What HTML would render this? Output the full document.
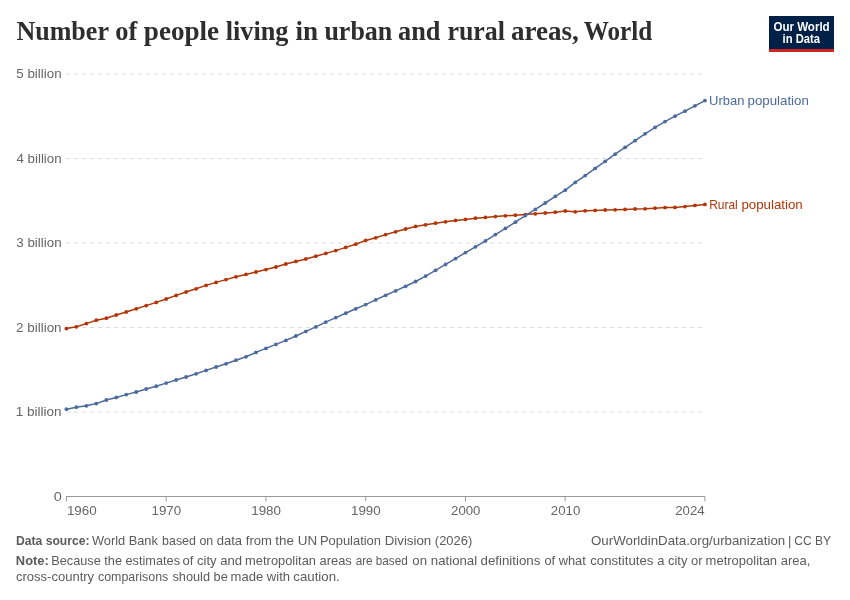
<!DOCTYPE html>
<html><head><meta charset="utf-8"><title>Number of people living in urban and rural areas, World</title>
<style>
html,body{margin:0;padding:0;background:#fff;}
body{width:850px;height:600px;overflow:hidden;font-family:"Liberation Sans",sans-serif;}
svg{display:block;will-change:transform;}
text{font-family:"Liberation Sans",sans-serif;}
text.s{font-family:"Liberation Serif",serif;}
</style></head><body>
<svg width="850" height="600" viewBox="0 0 850 600">
<rect width="850" height="600" fill="#fff"/>
<!-- logo -->
<rect x="769" y="16" width="65" height="36" fill="#002147"/>
<rect x="769" y="49" width="65" height="3" fill="#ce261e"/>
<!-- grid -->
<g stroke="#ddd" stroke-width="1" stroke-dasharray="4.2,3.8" fill="none"><line x1="66" x2="705" y1="74.0" y2="74.0"/><line x1="66" x2="705" y1="158.5" y2="158.5"/><line x1="66" x2="705" y1="243.0" y2="243.0"/><line x1="66" x2="705" y1="327.5" y2="327.5"/><line x1="66" x2="705" y1="412.05" y2="412.05"/></g>
<!-- axis -->
<g stroke="#999" stroke-width="1" fill="none">
<line x1="66" x2="705" y1="496.5" y2="496.5"/>
<line x1="66.4" x2="66.4" y1="496.5" y2="501.5"/><line x1="166.2" x2="166.2" y1="496.5" y2="501.5"/><line x1="265.9" x2="265.9" y1="496.5" y2="501.5"/><line x1="365.7" x2="365.7" y1="496.5" y2="501.5"/><line x1="465.5" x2="465.5" y1="496.5" y2="501.5"/><line x1="565.2" x2="565.2" y1="496.5" y2="501.5"/><line x1="704.9" x2="704.9" y1="496.5" y2="501.5"/>
</g>
<!-- series -->
<polyline points="66.40,328.60 76.38,326.80 86.35,323.60 96.33,320.20 106.31,318.20 116.29,315.00 126.26,312.00 136.24,308.80 146.22,305.60 156.19,302.40 166.17,299.00 176.15,295.40 186.12,292.00 196.10,288.80 206.08,285.40 216.06,282.40 226.03,279.60 236.01,276.80 245.99,274.40 255.96,272.00 265.94,269.60 275.92,267.00 285.89,264.00 295.87,261.40 305.85,259.00 315.83,256.20 325.80,253.40 335.78,250.60 345.76,247.40 355.73,244.20 365.71,240.40 375.69,237.80 385.66,234.60 395.64,231.80 405.62,229.00 415.60,226.40 425.57,224.80 435.55,223.20 445.53,221.80 455.50,220.40 465.48,219.40 475.46,218.20 485.43,217.40 495.41,216.60 505.39,215.80 515.37,215.20 525.34,214.60 535.32,213.80 545.30,213.00 555.27,212.20 565.25,211.00 575.23,211.80 585.20,210.80 595.18,210.40 605.16,210.00 615.13,209.80 625.11,209.40 635.09,209.00 645.07,208.80 655.04,208.20 665.02,207.60 675.00,207.40 684.97,206.60 694.95,205.40 704.93,204.40" fill="none" stroke="#B13507" stroke-width="1.5" stroke-linejoin="round" stroke-linecap="butt"/>
<g fill="#B13507"><circle cx="66.40" cy="328.60" r="1.9"/><circle cx="76.38" cy="326.80" r="1.9"/><circle cx="86.35" cy="323.60" r="1.9"/><circle cx="96.33" cy="320.20" r="1.9"/><circle cx="106.31" cy="318.20" r="1.9"/><circle cx="116.29" cy="315.00" r="1.9"/><circle cx="126.26" cy="312.00" r="1.9"/><circle cx="136.24" cy="308.80" r="1.9"/><circle cx="146.22" cy="305.60" r="1.9"/><circle cx="156.19" cy="302.40" r="1.9"/><circle cx="166.17" cy="299.00" r="1.9"/><circle cx="176.15" cy="295.40" r="1.9"/><circle cx="186.12" cy="292.00" r="1.9"/><circle cx="196.10" cy="288.80" r="1.9"/><circle cx="206.08" cy="285.40" r="1.9"/><circle cx="216.06" cy="282.40" r="1.9"/><circle cx="226.03" cy="279.60" r="1.9"/><circle cx="236.01" cy="276.80" r="1.9"/><circle cx="245.99" cy="274.40" r="1.9"/><circle cx="255.96" cy="272.00" r="1.9"/><circle cx="265.94" cy="269.60" r="1.9"/><circle cx="275.92" cy="267.00" r="1.9"/><circle cx="285.89" cy="264.00" r="1.9"/><circle cx="295.87" cy="261.40" r="1.9"/><circle cx="305.85" cy="259.00" r="1.9"/><circle cx="315.83" cy="256.20" r="1.9"/><circle cx="325.80" cy="253.40" r="1.9"/><circle cx="335.78" cy="250.60" r="1.9"/><circle cx="345.76" cy="247.40" r="1.9"/><circle cx="355.73" cy="244.20" r="1.9"/><circle cx="365.71" cy="240.40" r="1.9"/><circle cx="375.69" cy="237.80" r="1.9"/><circle cx="385.66" cy="234.60" r="1.9"/><circle cx="395.64" cy="231.80" r="1.9"/><circle cx="405.62" cy="229.00" r="1.9"/><circle cx="415.60" cy="226.40" r="1.9"/><circle cx="425.57" cy="224.80" r="1.9"/><circle cx="435.55" cy="223.20" r="1.9"/><circle cx="445.53" cy="221.80" r="1.9"/><circle cx="455.50" cy="220.40" r="1.9"/><circle cx="465.48" cy="219.40" r="1.9"/><circle cx="475.46" cy="218.20" r="1.9"/><circle cx="485.43" cy="217.40" r="1.9"/><circle cx="495.41" cy="216.60" r="1.9"/><circle cx="505.39" cy="215.80" r="1.9"/><circle cx="515.37" cy="215.20" r="1.9"/><circle cx="525.34" cy="214.60" r="1.9"/><circle cx="535.32" cy="213.80" r="1.9"/><circle cx="545.30" cy="213.00" r="1.9"/><circle cx="555.27" cy="212.20" r="1.9"/><circle cx="565.25" cy="211.00" r="1.9"/><circle cx="575.23" cy="211.80" r="1.9"/><circle cx="585.20" cy="210.80" r="1.9"/><circle cx="595.18" cy="210.40" r="1.9"/><circle cx="605.16" cy="210.00" r="1.9"/><circle cx="615.13" cy="209.80" r="1.9"/><circle cx="625.11" cy="209.40" r="1.9"/><circle cx="635.09" cy="209.00" r="1.9"/><circle cx="645.07" cy="208.80" r="1.9"/><circle cx="655.04" cy="208.20" r="1.9"/><circle cx="665.02" cy="207.60" r="1.9"/><circle cx="675.00" cy="207.40" r="1.9"/><circle cx="684.97" cy="206.60" r="1.9"/><circle cx="694.95" cy="205.40" r="1.9"/><circle cx="704.93" cy="204.40" r="1.9"/></g>

<polyline points="66.40,409.20 76.38,407.20 86.35,405.80 96.33,403.60 106.31,400.00 116.29,397.40 126.26,394.60 136.24,392.00 146.22,389.00 156.19,386.20 166.17,383.10 176.15,380.00 186.12,377.00 196.10,373.80 206.08,370.40 216.06,367.00 226.03,363.80 236.01,360.20 245.99,356.80 255.96,352.40 265.94,348.40 275.92,344.40 285.89,340.40 295.87,336.00 305.85,331.40 315.83,326.90 325.80,322.10 335.78,317.60 345.76,313.20 355.73,308.80 365.71,304.60 375.69,299.90 385.66,295.30 395.64,290.90 405.62,286.30 415.60,281.50 425.57,276.10 435.55,270.30 445.53,264.40 455.50,258.60 465.48,252.60 475.46,246.80 485.43,240.90 495.41,234.60 505.39,228.40 515.37,222.20 525.34,215.60 535.32,209.40 545.30,203.00 555.27,196.40 565.25,190.20 575.23,182.40 585.20,175.60 595.18,168.40 605.16,161.40 615.13,154.20 625.11,147.40 635.09,140.70 645.07,133.80 655.04,127.40 665.02,121.60 675.00,116.20 684.97,111.20 694.95,105.80 704.93,100.60" fill="none" stroke="#4C6A9C" stroke-width="1.5" stroke-linejoin="round" stroke-linecap="butt"/>
<g fill="#4C6A9C"><circle cx="66.40" cy="409.20" r="1.9"/><circle cx="76.38" cy="407.20" r="1.9"/><circle cx="86.35" cy="405.80" r="1.9"/><circle cx="96.33" cy="403.60" r="1.9"/><circle cx="106.31" cy="400.00" r="1.9"/><circle cx="116.29" cy="397.40" r="1.9"/><circle cx="126.26" cy="394.60" r="1.9"/><circle cx="136.24" cy="392.00" r="1.9"/><circle cx="146.22" cy="389.00" r="1.9"/><circle cx="156.19" cy="386.20" r="1.9"/><circle cx="166.17" cy="383.10" r="1.9"/><circle cx="176.15" cy="380.00" r="1.9"/><circle cx="186.12" cy="377.00" r="1.9"/><circle cx="196.10" cy="373.80" r="1.9"/><circle cx="206.08" cy="370.40" r="1.9"/><circle cx="216.06" cy="367.00" r="1.9"/><circle cx="226.03" cy="363.80" r="1.9"/><circle cx="236.01" cy="360.20" r="1.9"/><circle cx="245.99" cy="356.80" r="1.9"/><circle cx="255.96" cy="352.40" r="1.9"/><circle cx="265.94" cy="348.40" r="1.9"/><circle cx="275.92" cy="344.40" r="1.9"/><circle cx="285.89" cy="340.40" r="1.9"/><circle cx="295.87" cy="336.00" r="1.9"/><circle cx="305.85" cy="331.40" r="1.9"/><circle cx="315.83" cy="326.90" r="1.9"/><circle cx="325.80" cy="322.10" r="1.9"/><circle cx="335.78" cy="317.60" r="1.9"/><circle cx="345.76" cy="313.20" r="1.9"/><circle cx="355.73" cy="308.80" r="1.9"/><circle cx="365.71" cy="304.60" r="1.9"/><circle cx="375.69" cy="299.90" r="1.9"/><circle cx="385.66" cy="295.30" r="1.9"/><circle cx="395.64" cy="290.90" r="1.9"/><circle cx="405.62" cy="286.30" r="1.9"/><circle cx="415.60" cy="281.50" r="1.9"/><circle cx="425.57" cy="276.10" r="1.9"/><circle cx="435.55" cy="270.30" r="1.9"/><circle cx="445.53" cy="264.40" r="1.9"/><circle cx="455.50" cy="258.60" r="1.9"/><circle cx="465.48" cy="252.60" r="1.9"/><circle cx="475.46" cy="246.80" r="1.9"/><circle cx="485.43" cy="240.90" r="1.9"/><circle cx="495.41" cy="234.60" r="1.9"/><circle cx="505.39" cy="228.40" r="1.9"/><circle cx="515.37" cy="222.20" r="1.9"/><circle cx="525.34" cy="215.60" r="1.9"/><circle cx="535.32" cy="209.40" r="1.9"/><circle cx="545.30" cy="203.00" r="1.9"/><circle cx="555.27" cy="196.40" r="1.9"/><circle cx="565.25" cy="190.20" r="1.9"/><circle cx="575.23" cy="182.40" r="1.9"/><circle cx="585.20" cy="175.60" r="1.9"/><circle cx="595.18" cy="168.40" r="1.9"/><circle cx="605.16" cy="161.40" r="1.9"/><circle cx="615.13" cy="154.20" r="1.9"/><circle cx="625.11" cy="147.40" r="1.9"/><circle cx="635.09" cy="140.70" r="1.9"/><circle cx="645.07" cy="133.80" r="1.9"/><circle cx="655.04" cy="127.40" r="1.9"/><circle cx="665.02" cy="121.60" r="1.9"/><circle cx="675.00" cy="116.20" r="1.9"/><circle cx="684.97" cy="111.20" r="1.9"/><circle cx="694.95" cy="105.80" r="1.9"/><circle cx="704.93" cy="100.60" r="1.9"/></g>

<!-- text -->
<text class="s" x="16.42" y="40.1" font-size="27px" font-weight="bold" fill="#2e2e2e" textLength="92.56" lengthAdjust="spacingAndGlyphs">Number</text>
<text class="s" x="115.22" y="40.1" font-size="27px" font-weight="bold" fill="#2e2e2e" textLength="22.03" lengthAdjust="spacingAndGlyphs">of</text>
<text class="s" x="143.85" y="40.1" font-size="27px" font-weight="bold" fill="#2e2e2e" textLength="75.32" lengthAdjust="spacingAndGlyphs">people</text>
<text class="s" x="225.71" y="40.1" font-size="27px" font-weight="bold" fill="#2e2e2e" textLength="62.76" lengthAdjust="spacingAndGlyphs">living</text>
<text class="s" x="295.60" y="40.1" font-size="27px" font-weight="bold" fill="#2e2e2e" textLength="22.53" lengthAdjust="spacingAndGlyphs">in</text>
<text class="s" x="324.42" y="40.1" font-size="27px" font-weight="bold" fill="#2e2e2e" textLength="67.91" lengthAdjust="spacingAndGlyphs">urban</text>
<text class="s" x="398.03" y="40.1" font-size="27px" font-weight="bold" fill="#2e2e2e" textLength="42.36" lengthAdjust="spacingAndGlyphs">and</text>
<text class="s" x="447.38" y="40.1" font-size="27px" font-weight="bold" fill="#2e2e2e" textLength="57.60" lengthAdjust="spacingAndGlyphs">rural</text>
<text class="s" x="510.90" y="40.1" font-size="27px" font-weight="bold" fill="#2e2e2e" textLength="67.90" lengthAdjust="spacingAndGlyphs">areas,</text>
<text class="s" x="583.73" y="40.1" font-size="27px" font-weight="bold" fill="#2e2e2e" textLength="68.51" lengthAdjust="spacingAndGlyphs">World</text>
<text  x="16.31" y="78.2" font-size="13.5px" fill="#666" textLength="45.27" lengthAdjust="spacingAndGlyphs">5 billion</text>
<text  x="16.55" y="162.7" font-size="13.5px" fill="#666" textLength="45.01" lengthAdjust="spacingAndGlyphs">4 billion</text>
<text  x="16.31" y="247.2" font-size="13.5px" fill="#666" textLength="45.27" lengthAdjust="spacingAndGlyphs">3 billion</text>
<text  x="16.05" y="331.7" font-size="13.5px" fill="#666" textLength="45.52" lengthAdjust="spacingAndGlyphs">2 billion</text>
<text  x="15.80" y="416.25" font-size="13.5px" fill="#666" textLength="45.78" lengthAdjust="spacingAndGlyphs">1 billion</text>
<text  x="53.66" y="501" font-size="13.5px" fill="#666" textLength="8.09" lengthAdjust="spacingAndGlyphs">0</text>
<text  x="66.91" y="515" font-size="13.5px" fill="#666" textLength="29.73" lengthAdjust="spacingAndGlyphs">1960</text>
<text  x="151.48" y="515" font-size="13.5px" fill="#666" textLength="29.73" lengthAdjust="spacingAndGlyphs">1970</text>
<text  x="251.25" y="515" font-size="13.5px" fill="#666" textLength="29.73" lengthAdjust="spacingAndGlyphs">1980</text>
<text  x="351.02" y="515" font-size="13.5px" fill="#666" textLength="29.73" lengthAdjust="spacingAndGlyphs">1990</text>
<text  x="451.04" y="515" font-size="13.5px" fill="#666" textLength="29.47" lengthAdjust="spacingAndGlyphs">2000</text>
<text  x="550.81" y="515" font-size="13.5px" fill="#666" textLength="29.47" lengthAdjust="spacingAndGlyphs">2010</text>
<text  x="675.26" y="515" font-size="13.5px" fill="#666" textLength="29.47" lengthAdjust="spacingAndGlyphs">2024</text>
<text  x="709.10" y="105" font-size="13px" fill="#4C6A9C" textLength="35.42" lengthAdjust="spacingAndGlyphs">Urban</text>
<text  x="747.53" y="105" font-size="13px" fill="#4C6A9C" textLength="61.33" lengthAdjust="spacingAndGlyphs">population</text>
<text  x="709.18" y="209.1" font-size="13px" fill="#B13507" textLength="28.58" lengthAdjust="spacingAndGlyphs">Rural</text>
<text  x="741.43" y="209.1" font-size="13px" fill="#B13507" textLength="61.33" lengthAdjust="spacingAndGlyphs">population</text>
<text  x="15.90" y="545" font-size="13px" font-weight="bold" fill="#5b5b5b" textLength="73.67" lengthAdjust="spacingAndGlyphs">Data source:</text>
<text  x="91.95" y="545" font-size="13px" fill="#5b5b5b" textLength="65.86" lengthAdjust="spacingAndGlyphs">World Bank</text>
<text  x="162.08" y="545" font-size="13px" fill="#5b5b5b" textLength="51.13" lengthAdjust="spacingAndGlyphs">based on</text>
<text  x="216.70" y="545" font-size="13px" fill="#5b5b5b" textLength="55.23" lengthAdjust="spacingAndGlyphs">data from</text>
<text  x="275.34" y="545" font-size="13px" fill="#5b5b5b" textLength="41.76" lengthAdjust="spacingAndGlyphs">the UN</text>
<text  x="320.01" y="545" font-size="13px" fill="#5b5b5b" textLength="60.94" lengthAdjust="spacingAndGlyphs">Population</text>
<text  x="384.68" y="545" font-size="13px" fill="#5b5b5b" textLength="46.61" lengthAdjust="spacingAndGlyphs">Division</text>
<text  x="434.85" y="545" font-size="13px" fill="#5b5b5b" textLength="37.47" lengthAdjust="spacingAndGlyphs">(2026)</text>
<text  x="591.03" y="545" font-size="13px" fill="#5b5b5b" textLength="194.20" lengthAdjust="spacingAndGlyphs">OurWorldinData.org/urbanization</text>
<text  x="788.05" y="545" font-size="13px" fill="#5b5b5b" textLength="3.39" lengthAdjust="spacingAndGlyphs">|</text>
<text  x="794.31" y="545" font-size="13px" fill="#5b5b5b" textLength="36.74" lengthAdjust="spacingAndGlyphs">CC BY</text>
<text  x="15.86" y="565" font-size="13px" font-weight="bold" fill="#5b5b5b" textLength="32.95" lengthAdjust="spacingAndGlyphs">Note:</text>
<text  x="51.22" y="565" font-size="13px" fill="#5b5b5b" textLength="128.80" lengthAdjust="spacingAndGlyphs">Because the estimates</text>
<text  x="182.40" y="565" font-size="13px" fill="#5b5b5b" textLength="59.78" lengthAdjust="spacingAndGlyphs">of city and</text>
<text  x="245.11" y="565" font-size="13px" fill="#5b5b5b" textLength="106.71" lengthAdjust="spacingAndGlyphs">metropolitan areas</text>
<text  x="355.65" y="565" font-size="13px" fill="#5b5b5b" textLength="52.10" lengthAdjust="spacingAndGlyphs">are based</text>
<text  x="412.39" y="565" font-size="13px" fill="#5b5b5b" textLength="64.80" lengthAdjust="spacingAndGlyphs">on national</text>
<text  x="480.49" y="565" font-size="13px" fill="#5b5b5b" textLength="59.87" lengthAdjust="spacingAndGlyphs">definitions</text>
<text  x="544.41" y="565" font-size="13px" fill="#5b5b5b" textLength="41.36" lengthAdjust="spacingAndGlyphs">of what</text>
<text  x="590.19" y="565" font-size="13px" fill="#5b5b5b" textLength="63.22" lengthAdjust="spacingAndGlyphs">constitutes</text>
<text  x="657.20" y="565" font-size="13px" fill="#5b5b5b" textLength="45.26" lengthAdjust="spacingAndGlyphs">a city or</text>
<text  x="705.60" y="565" font-size="13px" fill="#5b5b5b" textLength="104.73" lengthAdjust="spacingAndGlyphs">metropolitan area,</text>
<text  x="16.00" y="580.5" font-size="13px" fill="#5b5b5b" textLength="78.13" lengthAdjust="spacingAndGlyphs">cross-country</text>
<text  x="98.02" y="580.5" font-size="13px" fill="#5b5b5b" textLength="70.31" lengthAdjust="spacingAndGlyphs">comparisons</text>
<text  x="172.51" y="580.5" font-size="13px" fill="#5b5b5b" textLength="55.22" lengthAdjust="spacingAndGlyphs">should be</text>
<text  x="230.60" y="580.5" font-size="13px" fill="#5b5b5b" textLength="59.46" lengthAdjust="spacingAndGlyphs">made with</text>
<text  x="293.39" y="580.5" font-size="13px" fill="#5b5b5b" textLength="46.33" lengthAdjust="spacingAndGlyphs">caution.</text>
<text  x="773.42" y="31" font-size="12px" font-weight="bold" fill="#fff" textLength="56.26" lengthAdjust="spacingAndGlyphs">Our World</text>
<text  x="782.60" y="43" font-size="12px" font-weight="bold" fill="#fff" textLength="37.42" lengthAdjust="spacingAndGlyphs">in Data</text>

</svg>
</body></html>
